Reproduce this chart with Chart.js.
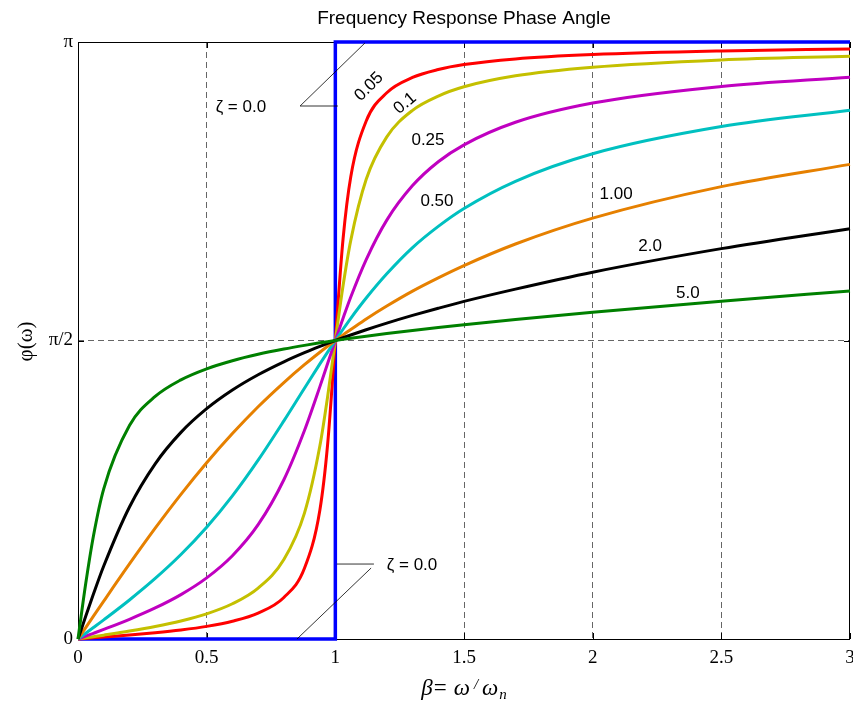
<!DOCTYPE html>
<html>
<head>
<meta charset="utf-8">
<script src="https://cdn.jsdelivr.net/npm/chart.js@4.4.0/dist/chart.umd.min.js"></script>
<style>
  html, body { margin: 0; padding: 0; background: #fff; }
  #wrap { width: 853px; height: 707px; }
</style>
</head>
<body>
<div id="wrap"><canvas id="chart" width="853" height="707"></canvas></div>
<script>
// frequency ratio beta = w / wn, shared by the damped curves
const beta = [0, 0.03, 0.06, 0.1, 0.2, 0.3, 0.4, 0.5, 0.6, 0.7, 0.8, 0.88, 0.94, 0.97,
  1.0, 1.03, 1.06, 1.12, 1.2, 1.3, 1.4, 1.5, 1.7, 2.0, 2.5, 3.0];

// phase angle in degrees (axis shows 0 .. pi)
const betaUndamped = [0, 1, 1, 3];
const phiUndamped = [0, 0, 180, 180];
const phi005 = [0, 0.17, 0.34, 0.58, 1.19, 1.89, 2.73, 3.81, 5.36, 7.82, 12.53, 21.31, 38.92, 58.64,
  90, 120.6, 139.4, 156.2, 164.7, 169.3, 171.7, 173.2, 174.9, 176.2, 177.3, 177.9];
const phi010 = [0, 0.34, 0.69, 1.16, 2.39, 3.77, 5.44, 7.59, 10.62, 15.35, 23.96, 37.96, 58.24, 73.06,
  90, 106.5, 120.2, 138.6, 151.4, 159.4, 163.7, 166.5, 169.8, 172.4, 174.6, 175.7];
const phi025 = [0, 0.86, 1.72, 2.89, 5.95, 9.36, 13.39, 18.43, 25.11, 34.46, 48.01, 62.85, 76.09, 83.05,
  90, 96.7, 103.1, 114.4, 126.3, 136.7, 143.9, 149.0, 155.8, 161.6, 166.6, 169.4];
const phi050 = [0, 1.72, 3.45, 5.77, 11.77, 18.25, 25.46, 33.69, 43.15, 53.93, 65.77, 75.62, 82.94, 86.51,
  90, 93.4, 96.7, 102.8, 110.1, 118.0, 124.4, 129.8, 138.0, 146.3, 154.5, 159.4];
const phi100 = [0, 3.44, 6.87, 11.42, 22.62, 33.40, 43.60, 53.13, 61.93, 70.02, 77.32, 82.70, 86.46, 88.26,
  90, 91.7, 93.3, 96.5, 100.4, 104.9, 108.9, 112.6, 119.1, 126.9, 136.4, 143.1];
const phi200 = [0, 6.85, 13.54, 22.00, 39.81, 52.83, 62.30, 69.44, 75.07, 79.68, 83.58, 86.33, 88.23, 89.13,
  90, 90.85, 91.67, 93.25, 95.24, 97.56, 99.73, 101.8, 105.5, 110.6, 117.7, 123.7];
const phi500 = [0, 16.71, 31.06, 45.29, 64.36, 73.13, 78.14, 81.47, 83.91, 85.83, 87.42, 88.53, 89.29, 89.65,
  90, 90.34, 90.67, 91.30, 92.10, 93.04, 93.92, 94.76, 96.34, 98.53, 101.86, 104.93];

const xTicks = [0, 0.5, 1, 1.5, 2, 2.5, 3];
const yTicks = [0, 90, 180];
const yTickLabels = ['0', 'π/2', 'π'];

const toPoints = (xs, ys) => xs.map((x, i) => ({ x: x, y: ys[i] }));

const series = [
  { label: 'ζ = 0.0', xs: betaUndamped, ys: phiUndamped, color: '#0000ff', width: 3.5 },
  { label: '0.05', xs: beta, ys: phi005, color: '#ff0000', width: 3 },
  { label: '0.1', xs: beta, ys: phi010, color: '#c4c000', width: 3 },
  { label: '0.25', xs: beta, ys: phi025, color: '#c000c0', width: 3 },
  { label: '0.50', xs: beta, ys: phi050, color: '#00c0c0', width: 3 },
  { label: '1.00', xs: beta, ys: phi100, color: '#e68000', width: 3 },
  { label: '2.0', xs: beta, ys: phi200, color: '#000000', width: 3 },
  { label: '5.0', xs: beta, ys: phi500, color: '#008000', width: 3 }
];

// curve labels placed in data coordinates
const curveNotes = [
  { text: '0.05', x: 1.131, y: 166.5, rot: -45 },
  { text: '0.1', x: 1.271, y: 161.5, rot: -40 },
  { text: '0.25', x: 1.360, y: 150.5, rot: 0 },
  { text: '0.50', x: 1.395, y: 132.1, rot: 0 },
  { text: '1.00', x: 2.091, y: 134.2, rot: 0 },
  { text: '2.0', x: 2.223, y: 118.5, rot: 0 },
  { text: '5.0', x: 2.370, y: 104.3, rot: 0 },
  { text: 'ζ = 0.0', x: 0.633, y: 160.4, rot: 0 },
  { text: 'ζ = 0.0', x: 1.298, y: 22.3, rot: 0 }
];
const leaders = [
  [[0.863, 160.7], [1.010, 160.7]],
  [[0.863, 160.7], [1.115, 179.7]],
  [[1.006, 22.6], [1.150, 22.6]],
  [[1.139, 21.4], [0.851, 0]]
];

const datasets = series.map((s, i) => ({
  label: s.label,
  data: toPoints(s.xs, s.ys),
  borderColor: s.color,
  backgroundColor: s.color,
  borderWidth: s.width,
  pointRadius: 0,
  fill: false,
  tension: 0,
  cubicInterpolationMode: i === 0 ? 'default' : 'monotone',
  clip: 3,
  order: series.length - i
}));

const serif = '"Liberation Serif", "Times New Roman", serif';
const sans = '"Liberation Sans", Arial, sans-serif';

const overlay = {
  id: 'overlay',
  beforeDatasetsDraw(chart) {
    const { ctx, chartArea: a, scales } = chart;
    ctx.save();
    ctx.strokeStyle = '#000';
    ctx.lineWidth = 1;
    ctx.strokeRect(a.left + 0.5, a.top + 0.5, a.right - a.left - 1, a.bottom - a.top);
    ctx.beginPath();
    xTicks.forEach(v => {
      const px = Math.round(scales.x.getPixelForValue(v)) + 0.5;
      ctx.moveTo(px, a.bottom); ctx.lineTo(px, a.bottom - 6);
      ctx.moveTo(px, a.top); ctx.lineTo(px, a.top + 6);
    });
    yTicks.forEach(v => {
      const py = Math.round(scales.y.getPixelForValue(v)) + 0.5;
      ctx.moveTo(a.left, py); ctx.lineTo(a.left + 6, py);
      ctx.moveTo(a.right, py); ctx.lineTo(a.right - 6, py);
    });
    ctx.stroke();
    ctx.restore();
  },
  afterDatasetsDraw(chart) {
    const { ctx, scales } = chart;
    ctx.save();
    ctx.strokeStyle = '#000';
    ctx.lineWidth = 0.8;
    leaders.forEach(seg => {
      ctx.beginPath();
      ctx.moveTo(scales.x.getPixelForValue(seg[0][0]), scales.y.getPixelForValue(seg[0][1]));
      ctx.lineTo(scales.x.getPixelForValue(seg[1][0]), scales.y.getPixelForValue(seg[1][1]));
      ctx.stroke();
    });
    ctx.fillStyle = '#000';
    ctx.font = '17px ' + sans;
    ctx.textAlign = 'center';
    ctx.textBaseline = 'middle';
    curveNotes.forEach(n => {
      ctx.save();
      ctx.translate(scales.x.getPixelForValue(n.x), scales.y.getPixelForValue(n.y));
      ctx.rotate(n.rot * Math.PI / 180);
      ctx.fillText(n.text, 0, 0);
      ctx.restore();
    });
    ctx.restore();
  },
  afterDraw(chart) {
    const { ctx, chartArea: a } = chart;
    const cx = (a.left + a.right) / 2;
    ctx.save();
    ctx.fillStyle = '#000';
    ctx.textAlign = 'center';
    ctx.textBaseline = 'alphabetic';
    ctx.font = '19px ' + sans;
    ctx.fillText('Frequency Response Phase Angle', cx, 24);

    // y axis title
    ctx.save();
    ctx.translate(26, (a.top + a.bottom) / 2 + 1);
    ctx.rotate(-Math.PI / 2);
    ctx.font = '21px ' + serif;
    ctx.textBaseline = 'middle';
    ctx.fillText('φ(ω)', 0, 0);
    ctx.restore();

    // x axis title: β= ω / ω_n
    const big = 'italic 23px ' + serif;
    const small = 'italic 15px ' + serif;
    const parts = [
      { t: 'β', f: big, dy: 0, gap: 0 },
      { t: '=', f: '23px ' + serif, dy: 0, gap: 1 },
      { t: 'ω', f: big, dy: 0, gap: 7 },
      { t: '/', f: small, dy: -6, gap: 4 },
      { t: 'ω', f: big, dy: 0, gap: 4 },
      { t: 'n', f: small, dy: 4, gap: 1 }
    ];
    let total = 0;
    parts.forEach(p => { ctx.font = p.f; p.w = ctx.measureText(p.t).width; total += p.w + p.gap; });
    let x = cx - total / 2;
    ctx.textAlign = 'left';
    parts.forEach(p => {
      x += p.gap;
      ctx.font = p.f;
      ctx.fillText(p.t, x, 695 + p.dy);
      x += p.w;
    });
    ctx.restore();
  }
};

new Chart(document.getElementById('chart'), {
  type: 'line',
  data: { datasets: datasets },
  options: {
    responsive: false,
    animation: false,
    devicePixelRatio: 1,
    layout: { padding: { top: 42, right: 3, left: 0, bottom: 0 } },
    plugins: {
      legend: { display: false },
      title: { display: false },
      tooltip: { enabled: false }
    },
    scales: {
      x: {
        type: 'linear',
        min: 0,
        max: 3,
        afterBuildTicks: s => { s.ticks = xTicks.map(v => ({ value: v })); },
        afterFit: s => { s.height = 68; s.paddingLeft = 0; s.paddingRight = 0; },
        ticks: {
          color: '#000',
          font: { family: serif, size: 19 },
          padding: 8,
          maxRotation: 0,
          autoSkip: false,
          callback: v => String(v)
        },
        grid: {
          drawTicks: false,
          lineWidth: 1,
          color: c => (c.tick && (c.tick.value === 0 || c.tick.value === 3)) ? 'rgba(0,0,0,0)' : '#666'
        },
        border: { display: false, dash: [6, 4] }
      },
      y: {
        type: 'linear',
        min: 0,
        max: 180,
        afterBuildTicks: s => { s.ticks = yTicks.map(v => ({ value: v })); },
        afterFit: s => { s.width = 78; s.paddingTop = 0; s.paddingBottom = 0; },
        ticks: {
          color: '#000',
          font: { family: serif, size: 19 },
          padding: 5,
          autoSkip: false,
          callback: v => yTickLabels[yTicks.indexOf(v)]
        },
        grid: {
          drawTicks: false,
          lineWidth: 1,
          color: c => (c.tick && (c.tick.value === 0 || c.tick.value === 180)) ? 'rgba(0,0,0,0)' : '#666'
        },
        border: { display: false, dash: [6, 4] }
      }
    }
  },
  plugins: [overlay]
});
</script>
</body>
</html>
